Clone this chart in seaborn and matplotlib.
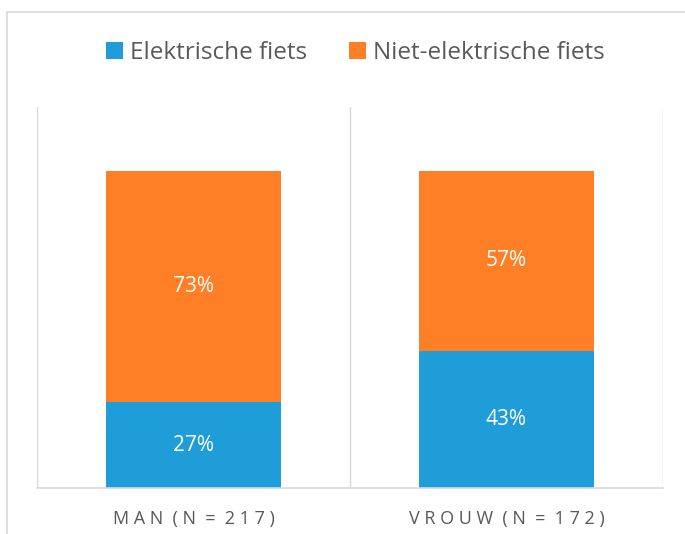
import numpy as np
import pandas as pd
import matplotlib.pyplot as plt
import seaborn as sns
from matplotlib.patches import Patch, Rectangle

categories = ['MAN (N = 217)', 'VROUW (N = 172)']
elektrisch = [27, 43]
niet_elektrisch = [73, 57]
series_names = ['Elektrische fiets', 'Niet-elektrische fiets']

blue = '#1F9DD9'
orange = '#FF7F27'
grey_text = '#595959'
grid_col = '#D9D9D9'

sns.set_theme(style='white')
plt.rcParams['font.family'] = ['Open Sans', 'DejaVu Sans']

df = pd.DataFrame({'cat': categories, 'el': elektrisch, 'niet': niet_elektrisch})
df['totaal'] = df['el'] + df['niet']

fig = plt.figure(figsize=(6.85, 5.34), dpi=100)
ax = fig.add_axes([37/685, 46/534, (663-37)/685, (488-107)/534])

# orange = full stack, blue overlaid on the bottom
sns.barplot(data=df, x='cat', y='totaal', color=orange, width=0.56,
            saturation=1, linewidth=0, ax=ax)
sns.barplot(data=df, x='cat', y='el', color=blue, width=0.56,
            saturation=1, linewidth=0, ax=ax)

for i, row in df.iterrows():
    ax.text(i, row['el']/2, f"{row['el']}%", ha='center', va='center',
            color='white', fontsize=15)
    ax.text(i, row['el'] + row['niet']/2, f"{row['niet']}%", ha='center',
            va='center', color='white', fontsize=15)

ax.set_xlim(-0.5, len(categories) - 0.5)
ax.set_ylim(0, 120)
for xb in np.arange(-0.5, len(categories), 1.0):
    ax.axvline(xb, color=grid_col, lw=1, zorder=0)
for s in ['top', 'right', 'left']:
    ax.spines[s].set_visible(False)
ax.spines['bottom'].set_color(grid_col)
ax.spines['bottom'].set_linewidth(1.2)
ax.set_yticks([])
ax.set_xlabel('')
ax.set_ylabel('')
ax.set_xticks(range(len(categories)))
ax.set_xticklabels([' '.join(list(c)).replace('   ', '  ') for c in categories],
                   color=grey_text, fontsize=13)
ax.tick_params(axis='x', length=0, pad=16)

handles = [Patch(facecolor=blue, edgecolor='none'),
           Patch(facecolor=orange, edgecolor='none')]
fig.legend(handles, series_names, loc='center', bbox_to_anchor=(0.519, 1 - 53/534),
           ncol=2, frameon=False, fontsize=17.5, labelcolor=grey_text,
           handlelength=0.68, handleheight=0.68, handletextpad=0.3,
           columnspacing=1.75)

fig.add_artist(Rectangle((7/685, -0.1), 1.2, 1 - 12/534 + 0.1,
                         transform=fig.transFigure, fill=False,
                         edgecolor=grid_col, lw=1.2))

fig.savefig('out.png', dpi=100)
